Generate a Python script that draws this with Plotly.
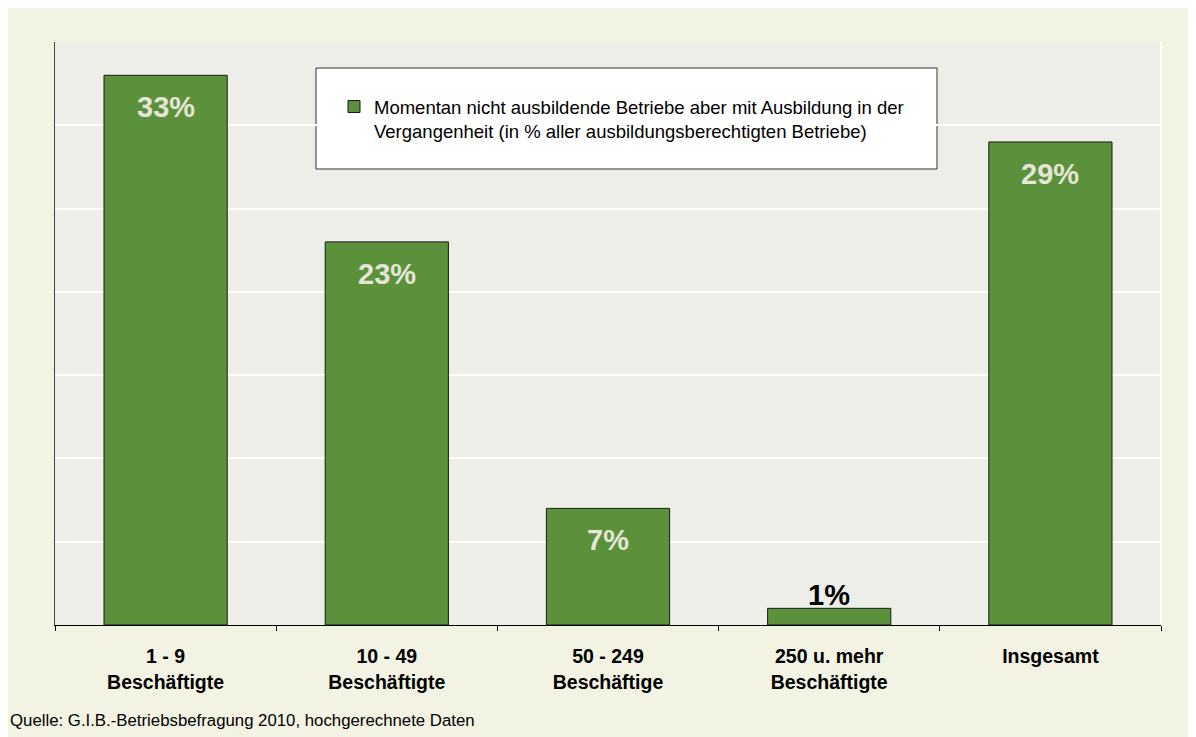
import plotly.graph_objects as go

categories = ["1 - 9<br>Beschäftigte", "10 - 49<br>Beschäftigte", "50 - 249<br>Beschäftige",
              "250 u. mehr<br>Beschäftigte", "Insgesamt"]
values = [33, 23, 7, 1, 29]
label_inside = [True, True, True, False, True]
series_name = "Momentan nicht ausbildende Betriebe aber mit Ausbildung in der<br>Vergangenheit (in % aller ausbildungsberechtigten Betriebe)"
source = "Quelle: G.I.B.-Betriebsbefragung 2010, hochgerechnete Daten"

green = "#5B913B"
beige = "#F3F3E4"
plot_bg = "#ECEEE7"
label_light = "#E4E5D6"

fig = go.Figure()
fig.add_trace(go.Bar(
    x=categories, y=values, name=series_name,
    marker=dict(color=green, line=dict(color="#1a1a1a", width=1)),
    showlegend=True,
))

# value labels
for cat, val, inside in zip(categories, values, label_inside):
    fig.add_annotation(
        x=cat, y=val, text="<b>%d%%</b>" % val, showarrow=False,
        yanchor="middle", yshift=-32 if inside else 13,
        font=dict(family="Arial, Liberation Sans", size=29,
                  color=label_light if inside else "black"),
    )

fig.add_annotation(
    text=source, xref="paper", yref="paper", x=(8 - 55) / 1106, y=(625 - 720) / 583,
    xanchor="left", yanchor="middle", showarrow=False,
    font=dict(family="Arial, Liberation Sans", size=16.8, color="black"),
)

# right white border and legend frame
fig.add_shape(type="line", xref="paper", yref="paper", x0=1, x1=1, y0=0, y1=1,
              line=dict(color="white", width=2))
fig.add_shape(type="rect", xref="paper", yref="paper",
              x0=(316 - 55) / 1106, x1=(937 - 55) / 1106, y0=(625 - 169) / 583, y1=(625 - 68) / 583,
              fillcolor="white", line=dict(color="#333333", width=1), layer="below")

fig.update_layout(
    width=1196, height=737,
    margin=dict(l=47, r=43, t=34, b=120),
    paper_bgcolor=beige,
    plot_bgcolor=plot_bg,
    bargap=0.443,
    font=dict(family="Arial, Liberation Sans", color="black"),
    legend=dict(
        x=(334 - 55) / 1106, y=(625 - 88) / 583, xanchor="left", yanchor="top",
        bgcolor="rgba(0,0,0,0)", borderwidth=0, valign="top",
        font=dict(size=18.5, color="black"),
    ),
)
fig.update_xaxes(
    showline=True, linecolor="black", linewidth=1,
    ticks="outside", tickson="boundaries", ticklen=5, tickcolor="black",
    tickfont=dict(size=19.5, weight="bold"), ticklabelstandoff=14,
    showgrid=False,
)
fig.update_yaxes(
    range=[0, 35], dtick=5, showticklabels=False,
    showgrid=True, gridcolor="white", gridwidth=2, zeroline=False,
    showline=True, linecolor="#444444", linewidth=1, ticks="",
)

fig.write_html("out.html")
